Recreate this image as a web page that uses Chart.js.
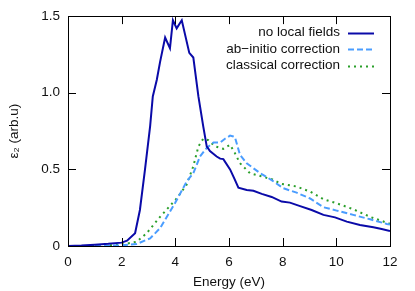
<!DOCTYPE html>
<html>
<head>
<meta charset="utf-8">
<script src="https://cdn.jsdelivr.net/npm/chart.js@4"></script>
<style>
  body { margin: 0; background: #fff; }
  #wrap { width: 415px; height: 291px; }
</style>
</head>
<body>
<div id="wrap"><canvas id="myChart"></canvas></div>
<script>
const xTicks = [0, 2, 4, 6, 8, 10, 12];
const yTicks = [0, 0.5, 1, 1.5];

const seriesLabels = ["no local fields", "ab\u2212initio correction", "classical correction"];

const noLfEnergy = [0, 0.5, 1.0, 1.5, 2.0, 2.2, 2.5, 2.68, 2.87, 3.06, 3.16, 3.31, 3.43, 3.62, 3.8, 3.91, 4.05, 4.24, 4.52, 4.67, 4.86, 5.04, 5.17, 5.29, 5.54, 5.67, 5.79, 6.04, 6.2, 6.35, 6.66, 6.91, 7.22, 7.59, 7.96, 8.27, 8.65, 9.08, 9.52, 9.95, 10.39, 10.88, 11.38, 11.69, 12];
const noLfValues = [0, 0.003, 0.008, 0.014, 0.022, 0.035, 0.083, 0.235, 0.5, 0.78, 0.976, 1.085, 1.2, 1.36, 1.29, 1.473, 1.42, 1.473, 1.26, 1.23, 0.976, 0.78, 0.65, 0.62, 0.584, 0.57, 0.567, 0.5, 0.44, 0.38, 0.366, 0.36, 0.34, 0.32, 0.29, 0.283, 0.26, 0.235, 0.203, 0.187, 0.159, 0.137, 0.122, 0.111, 0.098];

const abEnergy = [0, 1.0, 2.0, 2.56, 3.06, 3.43, 3.99, 4.42, 4.67, 4.92, 5.17, 5.42, 5.67, 5.85, 6.04, 6.16, 6.22, 6.41, 6.66, 7.16, 7.59, 8.02, 8.52, 9.02, 9.52, 10.01, 10.63, 11.26, 11.88, 12];
const abValues = [0, 0, 0.004, 0.013, 0.05, 0.116, 0.28, 0.42, 0.475, 0.584, 0.64, 0.675, 0.675, 0.7, 0.72, 0.715, 0.71, 0.595, 0.54, 0.475, 0.43, 0.377, 0.348, 0.31, 0.253, 0.231, 0.203, 0.174, 0.144, 0.14];

const clEnergy = [0, 1.0, 1.94, 2.56, 2.93, 3.43, 4.05, 4.42, 4.67, 4.86, 5.04, 5.23, 5.48, 5.79, 6.04, 6.22, 6.41, 6.78, 7.16, 7.59, 7.96, 8.52, 9.02, 9.52, 10.01, 10.63, 11.26, 11.88, 12];
const clValues = [0, 0, 0.007, 0.028, 0.083, 0.19, 0.31, 0.4, 0.52, 0.65, 0.7, 0.69, 0.65, 0.634, 0.66, 0.606, 0.54, 0.475, 0.457, 0.436, 0.405, 0.388, 0.355, 0.305, 0.279, 0.24, 0.19, 0.152, 0.145];

const colors = ["#0a0aa8", "#4a9dff", "#2a9f2a"];
const dashes = [[], [6, 3], [2, 4]];
const fontSpec = { family: "'Liberation Sans', Arial, sans-serif", size: 13.5 };

function toPoints(xs, ys) {
  return xs.map((x, i) => ({ x: x, y: ys[i] }));
}

const frameAndLegend = {
  id: "frameAndLegend",
  afterDatasetsDraw(chart) {
    const { ctx, chartArea: a, scales } = chart;
    ctx.save();
    ctx.strokeStyle = "#000";
    ctx.lineWidth = 1;
    const len = 8;
    ctx.beginPath();
    xTicks.slice(1, -1).forEach((t) => {
      const px = Math.round(scales.x.getPixelForValue(t)) + 0.5;
      ctx.moveTo(px, a.bottom); ctx.lineTo(px, a.bottom - len);
      ctx.moveTo(px, a.top); ctx.lineTo(px, a.top + len);
    });
    yTicks.slice(1, -1).forEach((t) => {
      const py = Math.round(scales.y.getPixelForValue(t)) + 0.5;
      ctx.moveTo(a.left, py); ctx.lineTo(a.left + len, py);
      ctx.moveTo(a.right, py); ctx.lineTo(a.right - len, py);
    });
    ctx.stroke();
    ctx.strokeRect(Math.round(a.left) + 0.5, Math.round(a.top) + 0.5,
      Math.round(a.right - a.left), Math.round(a.bottom - a.top));

    // legend: text then sample, gnuplot style
    ctx.font = "13.5px 'Liberation Sans', Arial, sans-serif";
    ctx.fillStyle = "#111";
    ctx.textAlign = "right";
    ctx.textBaseline = "middle";
    chart.data.datasets.forEach((ds, i) => {
      const y = 32.5 + i * 16.5;
      ctx.fillText(ds.label, 340, y);
      ctx.beginPath();
      ctx.strokeStyle = ds.borderColor;
      ctx.lineWidth = 2;
      ctx.setLineDash(ds.borderDash || []);
      ctx.moveTo(348, Math.round(y) + 0.5);
      ctx.lineTo(374, Math.round(y) + 0.5);
      ctx.stroke();
    });
    ctx.restore();
  },
};

const ctx = document.getElementById("myChart");

new Chart(ctx, {
  type: "line",
  data: {
    datasets: [
      { label: seriesLabels[0], data: toPoints(noLfEnergy, noLfValues) },
      { label: seriesLabels[1], data: toPoints(abEnergy, abValues) },
      { label: seriesLabels[2], data: toPoints(clEnergy, clValues) },
    ].map((ds, i) => ({
      ...ds,
      borderColor: colors[i],
      borderDash: dashes[i],
      borderWidth: 2,
      pointRadius: 0,
      tension: 0,
      fill: false,
    })),
  },
  options: {
    responsive: true,
    maintainAspectRatio: false,
    animation: false,
    layout: { padding: { left: 0, right: 25, top: 16, bottom: 0 } },
    plugins: { legend: { display: false }, tooltip: { enabled: false } },
    scales: {
      x: {
        type: "linear",
        min: 0,
        max: 12,
        afterBuildTicks: (s) => { s.ticks = xTicks.map((v) => ({ value: v })); },
        afterFit: (s) => { s.height = 45; },
        grid: { display: false, drawTicks: false },
        border: { display: false },
        ticks: { padding: 8, color: "#111", font: fontSpec },
        title: {
          display: true,
          text: "Energy (eV)",
          color: "#111",
          padding: { top: 2, bottom: 1 },
          font: fontSpec,
        },
      },
      y: {
        min: 0,
        max: 1.5,
        afterBuildTicks: (s) => { s.ticks = yTicks.map((v) => ({ value: v })); },
        afterFit: (s) => { s.width = 68; },
        grid: { display: false, drawTicks: false },
        border: { display: false },
        ticks: { padding: 8, color: "#111", font: fontSpec },
        title: {
          display: true,
          text: "\u03b5\u2082 (arb.u)",
          color: "#111",
          padding: { top: 6, bottom: 4 },
          font: fontSpec,
        },
      },
    },
  },
  plugins: [frameAndLegend],
});
</script>
</body>
</html>
